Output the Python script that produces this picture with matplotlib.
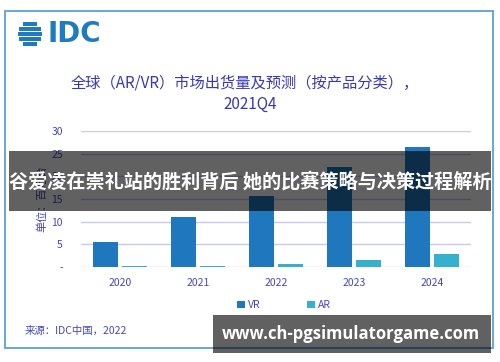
import matplotlib
matplotlib.use("Agg")
import matplotlib.pyplot as plt
from matplotlib.patches import Rectangle
import numpy as np

plt.rcParams['font.family'] = ['Noto Sans CJK SC', 'DejaVu Sans']

years = ["2020", "2021", "2022", "2023", "2024"]
vr = [5.5, 11.0, 15.7, 22.1, 26.5]
ar = [0.3, 0.3, 0.7, 1.5, 2.9]
yticks = [0, 5, 10, 15, 20, 25, 30]
ytick_labels = ["-", "5", "10", "15", "20", "25", "30"]
series_names = ["VR", "AR"]

W, H = 500, 362
fig = plt.figure(figsize=(5, 3.62), dpi=100)

def fx(px):
    return px / W

def fy(py):
    return 1 - py / H

txt_col = "#4646C0"
vr_col = "#1F78BE"
ar_col = "#36B0CC"

# outer border
fig.patches.append(Rectangle((fx(5), fy(348)), fx(488), (348 - 11) / H,
                             transform=fig.transFigure, fill=False, edgecolor="#5AA0D8", linewidth=1.3))

ax = fig.add_axes([fx(81), fy(267), fx(390), (267 - 131) / H])
x = np.arange(len(years))
w = 0.32
ax.bar(x - 0.185, vr, width=w, color=vr_col, label=series_names[0], zorder=3)
ax.bar(x + 0.185, ar, width=w, color=ar_col, label=series_names[1], zorder=3)
ax.set_xlim(-0.5, 4.5)
ax.set_ylim(0, 30)
ax.set_yticks(yticks)
ax.set_yticklabels(ytick_labels)
ax.set_xticks(x)
ax.set_xticklabels(years)
for s in ax.spines.values():
    s.set_visible(False)
ax.grid(axis="y", color="#C8C8F0", linewidth=1.0, zorder=0)
ax.tick_params(axis="both", length=0, colors=txt_col, labelsize=7.5)
ax.tick_params(axis="y", pad=13)
ax.tick_params(axis="x", pad=8)
ax.set_ylabel("单位：百万台", color=txt_col, fontsize=8, labelpad=3)

leg = fig.legend(loc="center", bbox_to_anchor=(fx(284), fy(305)), ncol=2, frameon=False,
                 fontsize=7.5, handlelength=0.7, handleheight=0.7, columnspacing=4.5,
                 handletextpad=0.3)
for t in leg.get_texts():
    t.set_color(txt_col)

# title
fig.text(fx(245), fy(83), "全球（AR/VR）市场出货量及预测（按产品分类），", ha="center", va="center",
         fontsize=11, color="#3838B8")
fig.text(fx(250), fy(104), "2021Q4", ha="center", va="center", fontsize=11, color="#3838B8")

# source
fig.text(fx(25), fy(331), "来源：IDC中国，2022", ha="left", va="center", fontsize=7.5, color=txt_col)

# IDC logo
logo_col = "#1F7BC0"
fig.text(fx(47), fy(34), "IDC", ha="left", va="center", fontsize=20, fontweight="bold",
         color=logo_col, family="DejaVu Sans")
cx, cy, r = 30, 34, 12
for yy in np.linspace(cy - r + 2, cy + r - 2, 5):
    half = np.sqrt(max(r**2 - (yy - cy)**2, 0))
    fig.patches.append(Rectangle((fx(cx - half), fy(yy + 1.6)), fx(2 * half), 3.2 / H,
                                 transform=fig.transFigure, color=logo_col, linewidth=0))

# overlay band 1
fig.patches.append(Rectangle((fx(9), fy(211)), fx(482), (211 - 151) / H, transform=fig.transFigure,
                             color="black", alpha=0.62, linewidth=0, zorder=10))
fig.text(fx(250), fy(182), "谷爱凌在崇礼站的胜利背后 她的比赛策略与决策过程解析", ha="center", va="center",
         fontsize=13.8, fontweight="bold", color="white", zorder=11)

# overlay band 2
fig.patches.append(Rectangle((fx(213), fy(353)), fx(278), (353 - 315) / H, transform=fig.transFigure,
                             color="black", alpha=0.62, linewidth=0, zorder=10))
fig.text(fx(351), fy(334), "www.ch-pgsimulatorgame.com", ha="center", va="center",
         fontsize=12, fontweight="bold", color="white", zorder=11, family=["Open Sans", "DejaVu Sans"])

fig.savefig("out.png", dpi=100)
